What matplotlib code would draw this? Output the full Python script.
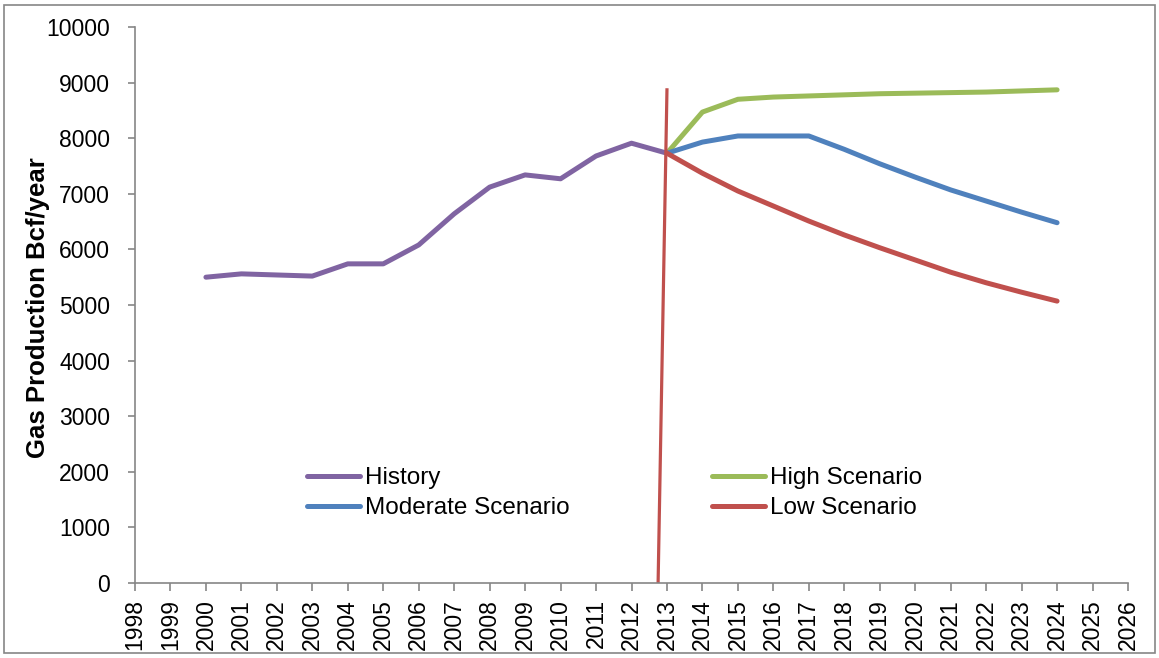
import matplotlib
matplotlib.use("Agg")
import matplotlib.pyplot as plt
from matplotlib.patches import Rectangle
from matplotlib.lines import Line2D

plt.rcParams['font.family'] = ['Liberation Sans', 'DejaVu Sans']

hist_years = list(range(2000, 2014))
history = [5500, 5560, 5540, 5520, 5740, 5740, 6080, 6640, 7120, 7340, 7270, 7680, 7910, 7730]

proj_years = list(range(2013, 2025))
high = [7730, 8470, 8700, 8740, 8760, 8780, 8800, 8810, 8820, 8830, 8850, 8870]
moderate = [7730, 7930, 8040, 8040, 8040, 7800, 7540, 7300, 7070, 6870, 6670, 6480]
low = [7730, 7370, 7050, 6780, 6510, 6260, 6030, 5810, 5590, 5400, 5230, 5070]

divider_x = [2012.75, 2013.0]
divider_y = [0, 8870]

x_ticks = list(range(1998, 2027))
y_ticks = list(range(0, 10001, 1000))

C_PURPLE = '#8064A2'
C_BLUE = '#4F81BD'
C_GREEN = '#9BBB59'
C_RED = '#C0504D'

W, H = 1159, 658
fig = plt.figure(figsize=(W / 100, H / 100), dpi=100)
ax = fig.add_axes([135 / W, 1 - 583 / H, (1128 - 135) / W, (583 - 27) / H])

lw = 3.6
ax.plot(hist_years, history, color=C_PURPLE, lw=lw, solid_joinstyle='round', solid_capstyle='round')
ax.plot(proj_years, high, color=C_GREEN, lw=lw, solid_capstyle='round')
ax.plot(proj_years, moderate, color=C_BLUE, lw=lw, solid_capstyle='round')
ax.plot(proj_years, low, color=C_RED, lw=lw, solid_capstyle='round')
ax.plot(divider_x, divider_y, color=C_RED, lw=2.3)

ax.set_xlim(1998, 2026)
ax.set_ylim(0, 10000)
ax.set_xticks(x_ticks)
ax.set_xticklabels([str(y) for y in x_ticks], rotation=90, fontsize=16.5)
ax.set_yticks(y_ticks)
ax.set_yticklabels([str(v) for v in y_ticks], fontsize=16.5)
ax.tick_params(axis='y', direction='out', length=5, width=1.2, color='#868686', pad=13)
ax.tick_params(axis='x', direction='out', length=6, width=1.2, color='#868686', pad=5.5)

for s in ['top', 'right']:
    ax.spines[s].set_visible(False)
for s in ['left', 'bottom']:
    ax.spines[s].set_color('#868686')
    ax.spines[s].set_linewidth(1.2)

fig.text(38 / W, 1 - 308 / H, 'Gas Production Bcf/year', rotation=90, fontsize=18.5,
         fontweight='bold', ha='center', va='center')

h_hist = Line2D([], [], color=C_PURPLE, lw=lw, solid_capstyle='round')
h_mod = Line2D([], [], color=C_BLUE, lw=lw, solid_capstyle='round')
h_high = Line2D([], [], color=C_GREEN, lw=lw, solid_capstyle='round')
h_low = Line2D([], [], color=C_RED, lw=lw, solid_capstyle='round')

common = dict(frameon=False, fontsize=17.5, handlelength=2.2, handletextpad=0.2,
              labelspacing=0.33, borderpad=0, borderaxespad=0, loc='upper left')
leg1 = fig.legend([h_hist, h_mod], ['History', 'Moderate Scenario'],
                  bbox_to_anchor=(307 / W, 1 - 467 / H), **common)
leg2 = fig.legend([h_high, h_low], ['High Scenario', 'Low Scenario'],
                  bbox_to_anchor=(712 / W, 1 - 467 / H), **common)

fig.patches.append(Rectangle((4 / W, 5 / H), (1155 - 4) / W, (653 - 5) / H,
                             transform=fig.transFigure, fill=False,
                             edgecolor='#868686', lw=1.2))

fig.savefig('out.png', dpi=100)
